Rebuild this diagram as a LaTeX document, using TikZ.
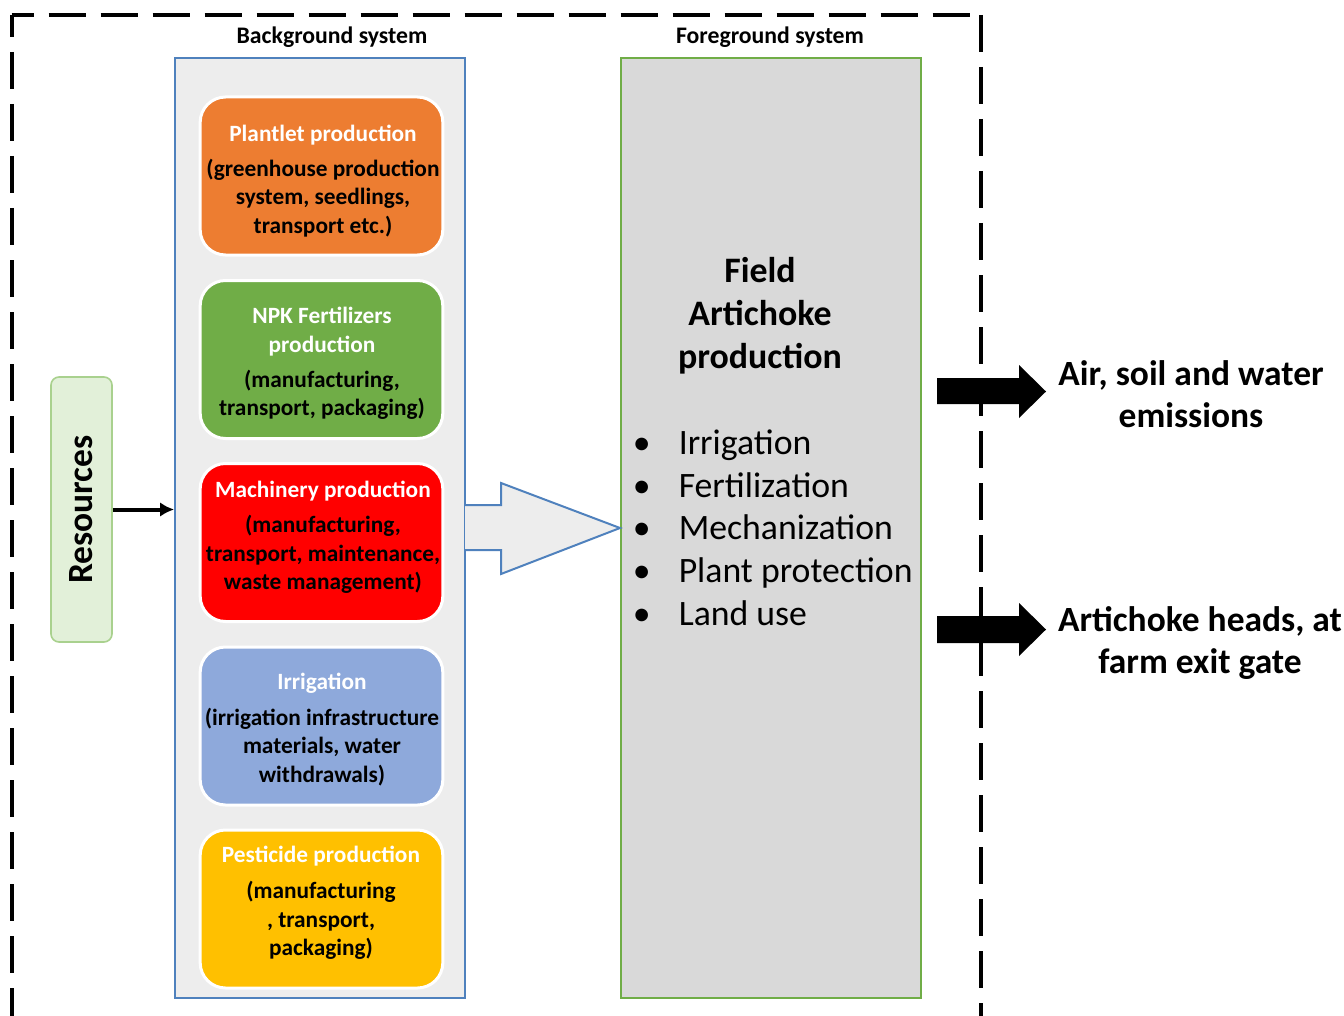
\documentclass[tikz,border=0pt]{standalone}
\usepackage{fontspec}
\setmainfont{Carlito}
\usetikzlibrary{arrows.meta}
\definecolor{bgfill}{HTML}{EDEDED}
\definecolor{bgline}{HTML}{4F81BD}
\definecolor{fgfill}{HTML}{D9D9D9}
\definecolor{fgline}{HTML}{70AD47}
\definecolor{corange}{HTML}{ED7D31}
\definecolor{cgreen}{HTML}{70AD47}
\definecolor{cred}{HTML}{FF0000}
\definecolor{cblue}{HTML}{8EA9DB}
\definecolor{cgold}{HTML}{FFC000}
\definecolor{resfill}{HTML}{E2F0D9}
\definecolor{resline}{HTML}{A9D18E}
\tikzset{
  inbox/.style={draw=white, line width=2.25pt, rounded corners=19pt,
    minimum width=182pt, minimum height=118.5pt, inner sep=0pt},
  intxt/.style={align=center, inner sep=0pt,
    font=\bfseries\fontsize{17.5}{21.4}\selectfont},
  hdr/.style={font=\bfseries\fontsize{17.8}{21}\selectfont},
  frame/.style={line width=3pt, dash pattern=on 27.75pt off 11.25pt},
  bigtxt/.style={font=\bfseries\fontsize{26.9}{32.2}\selectfont, align=center},
  outtxt/.style={font=\bfseries\fontsize{26.6}{31.5}\selectfont, align=center},
  blk/.style={fill=black, draw=none}
}
\begin{document}
\begin{tikzpicture}[x=0.75pt,y=-0.75pt]
\useasboundingbox (0,0) rectangle (1344,1016);
% dashed frame
\draw[frame, dash phase=11.25pt] (11.5,15) -- (11.5,1016);
\draw[frame, dash phase=11.25pt] (11.5,15) -- (981,15);
\draw[frame] (981,15) -- (981,1016);
% headers
\node[hdr] (bgh) at (332,37) {Background system};
\node[hdr] (fgh) at (770,37) {Foreground system};
% background box
\node[draw=bgline, fill=bgfill, line width=1.5pt, minimum width=217.5pt, minimum height=705pt, inner sep=0pt] (bg) at (320,528) {};
% foreground box
\node[draw=fgline, fill=fgfill, line width=1.5pt, minimum width=225pt, minimum height=705pt, inner sep=0pt] (fg) at (771,528) {};
% inner boxes
\node[inbox, fill=corange] (plant) at (321.5,176) {};
\node[inbox, fill=cgreen] (npk) at (321.5,359.5) {};
\node[inbox, fill=cred] (mach) at (321.5,542.5) {};
\node[inbox, fill=cblue] (irr) at (321.5,726) {};
\node[inbox, fill=cgold] (pest) at (321.5,909) {};
\node[intxt] (plantT) at (323,181) {{\color{white}Plantlet production}\\[5pt](greenhouse production\\system, seedlings,\\transport etc.)};
\node[intxt] (npkT) at (322,363.5) {{\color{white}NPK Fertilizers}\\{\color{white}production}\\[5pt](manufacturing,\\transport, packaging)};
\node[intxt] (machT) at (323,537.5) {{\color{white}Machinery production}\\[5pt](manufacturing,\\transport, maintenance,\\waste management)};
\node[intxt] (irrT) at (322,729.5) {{\color{white}Irrigation}\\[5pt](irrigation infrastructure\\materials, water\\withdrawals)};
\node[intxt] (pestT) at (321,903) {{\color{white}Pesticide production}\\[5.6pt](manufacturing\\, transport,\\packaging)};
% resources
\node[draw=resline, fill=resfill, line width=1.2pt, rounded corners=6pt, minimum width=45.75pt, minimum height=198.75pt, inner sep=0pt] (res) at (81.5,509.5) {};
\node[rotate=90, font=\bfseries\fontsize{26.6}{30}\selectfont] (restxt) at (res.center) {Resources};
\draw[-{Latex[length=10.5pt,width=11pt]}, line width=3pt] (res.east) -- (res.east -| bg.west);
% big hollow arrow
\coordinate (ha1) at (465,505);
\coordinate (ha2) at (465,550);
\fill[bgfill] (ha1) -- (501,505) -- (501,483) -- (fg.west) -- (501,574) -- (501,550) -- (ha2) -- cycle;
\draw[bgline, line width=1.5pt, line join=miter] (ha1) -- (501,505) -- (501,483) -- (fg.west) -- (501,574) -- (501,550) -- (ha2);
% foreground text
\node[bigtxt] (field) at (760,316) {Field\\Artichoke\\production};
\node[anchor=west, align=left, inner sep=0pt, font=\fontsize{26.8}{32}\selectfont] (list) at (632.5,527.5) {%
\makebox[34.5pt][l]{•}Irrigation\\
\makebox[34.5pt][l]{•}Fertilization\\
\makebox[34.5pt][l]{•}Mechanization\\
\makebox[34.5pt][l]{•}Plant protection\\
\makebox[34.5pt][l]{•}Land use};
% output arrows
\fill[blk] (937,378) -- (1019,378) -- (1019,365) -- (1046,391.5) -- (1019,418) -- (1019,404) -- (937,404) -- cycle;
\fill[blk] (937,616) -- (1019,616) -- (1019,603) -- (1046,629.5) -- (1019,656) -- (1019,643) -- (937,643) -- cycle;
\node[outtxt] (emis) at (1191,394) {Air, soil and water\\emissions};
\node[outtxt] (heads) at (1200,643.5) {Artichoke heads, at\\farm exit gate};
\end{tikzpicture}
\end{document}
